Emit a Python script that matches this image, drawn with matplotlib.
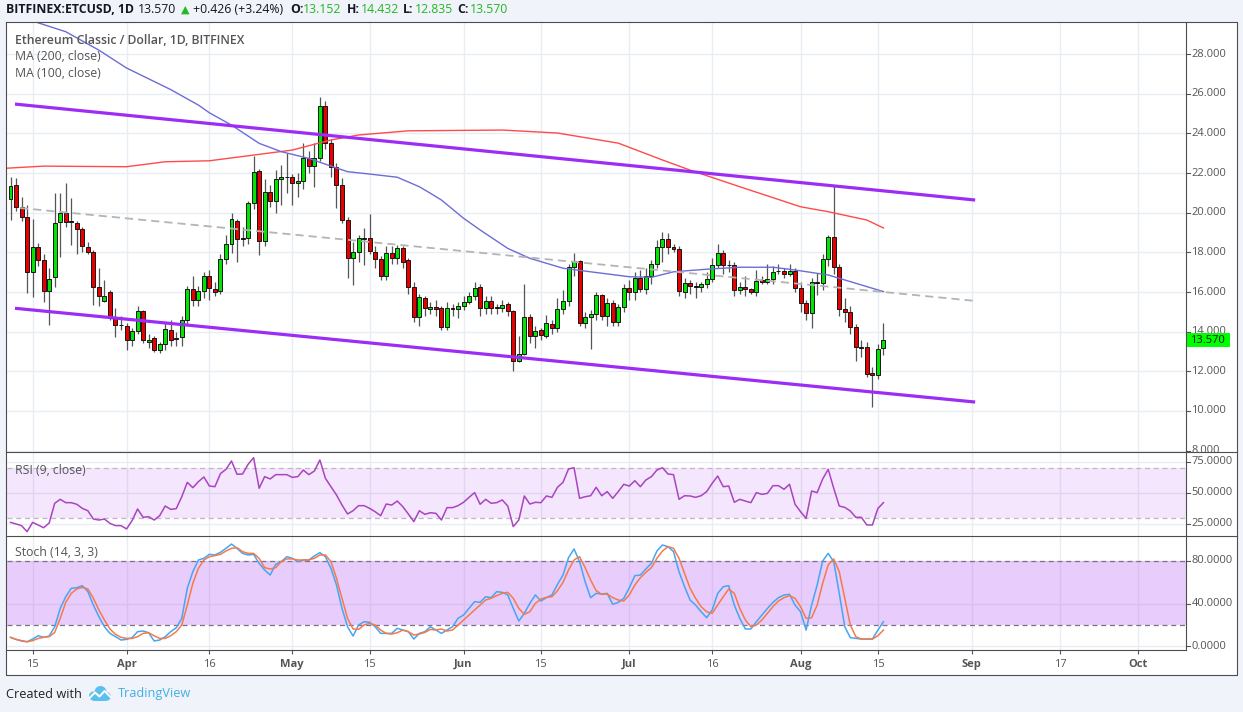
import numpy as np
import pandas as pd
import matplotlib
matplotlib.use("Agg")
import matplotlib.pyplot as plt
from matplotlib.patches import Rectangle, Circle

plt.rcParams['font.family'] = ['Open Sans', 'DejaVu Sans']

W, H = 1243, 712
START = pd.Timestamp("2018-03-11")

# ---------------- data ----------------
opens = [20.68, 21.41, 20.30, 19.80, 17.02, 18.29, 17.60, 16.04, 16.74, 19.52,
         20.00, 19.56, 19.50, 19.16, 18.29, 18.00, 16.27, 15.55, 16.02, 14.71,
         14.36, 14.30, 13.58, 14.05, 15.04, 13.50, 13.70, 13.08, 13.38, 14.10,
         13.64, 13.72, 14.59, 16.14, 15.60, 16.07, 16.82, 16.14, 16.04, 17.65,
         18.42, 19.60, 18.70, 18.70, 20.47, 22.10, 18.59, 21.06, 20.59, 21.68,
         21.80, 21.81, 21.50, 21.60, 22.74, 22.37, 22.77, 25.38, 23.53, 22.29,
         21.40, 19.63, 17.70, 18.03, 18.68, 18.70, 18.03, 17.65, 16.82, 17.98,
         17.70, 18.20, 17.60, 16.27, 14.76, 15.68, 15.13, 15.23, 15.18, 14.25,
         15.18, 15.13, 15.30, 15.50, 15.81, 16.24, 15.18, 15.55, 15.20, 15.20,
         15.38, 15.04, 12.52, 12.86, 14.72, 13.80, 14.10, 13.80, 14.37, 14.20,
         15.13, 15.56, 17.28, 17.58, 14.45, 14.76, 14.88, 15.85, 14.80, 15.46,
         14.50, 15.26, 16.19, 15.99, 16.69, 16.14, 16.81, 17.40, 18.29, 18.69,
         18.29, 18.19, 16.02, 16.44, 16.32, 16.24, 16.39, 16.64, 17.35, 17.95,
         17.36, 17.38, 16.10, 16.27, 16.13, 16.02, 16.60, 16.50, 16.66, 17.08,
         17.05, 16.90, 17.07, 16.19, 15.46, 14.93, 16.52, 16.44, 17.65, 18.76,
         17.28, 15.13, 15.00, 14.22, 13.22, 13.21, 11.90, 11.82, 13.152]
highs = [21.80, 21.75, 20.80, 20.40, 19.70, 18.47, 17.90, 17.20, 20.99, 20.98,
         21.48, 20.74, 19.60, 19.30, 18.50, 18.10, 17.20, 16.60, 16.10, 15.20,
         14.80, 14.45, 14.20, 15.30, 15.10, 13.90, 13.80, 13.50, 14.50, 14.60,
         14.00, 14.80, 16.30, 16.80, 16.30, 17.00, 17.10, 16.50, 17.90, 18.90,
         20.00, 19.70, 19.30, 20.60, 22.86, 22.20, 21.70, 21.40, 22.15, 22.40,
         23.00, 21.95, 22.00, 23.50, 23.10, 23.50, 25.82, 25.65, 23.70, 22.50,
         21.75, 19.80, 18.50, 18.90, 19.23, 19.93, 18.30, 17.80, 18.30, 18.30,
         18.37, 18.30, 17.70, 16.50, 15.90, 15.80, 15.50, 15.60, 15.30, 15.50,
         15.40, 15.50, 15.80, 16.00, 16.50, 16.40, 15.80, 15.80, 15.40, 15.60,
         15.50, 15.10, 13.80, 16.40, 14.90, 14.30, 14.20, 14.84, 14.60, 15.70,
         16.10, 17.40, 17.97, 17.60, 15.00, 15.10, 16.00, 15.90, 15.70, 15.60,
         15.40, 16.40, 16.60, 17.00, 17.10, 17.20, 17.60, 18.60, 19.04, 19.00,
         18.40, 18.30, 16.70, 16.60, 16.50, 16.50, 17.00, 17.70, 18.42, 18.10,
         17.60, 17.50, 16.50, 16.80, 16.20, 17.10, 16.80, 17.40, 17.30, 17.40,
         17.20, 17.40, 17.20, 16.50, 15.60, 16.70, 16.96, 17.90, 18.90, 21.35,
         17.40, 15.70, 15.30, 14.40, 13.60, 13.50, 12.20, 13.40, 14.432]
lows = [19.63, 20.10, 19.60, 15.95, 15.75, 17.30, 15.50, 14.34, 16.27, 17.78,
        19.30, 18.37, 17.90, 18.00, 17.90, 15.35, 15.30, 15.50, 14.60, 13.75,
        14.10, 13.08, 13.30, 13.90, 13.45, 13.20, 12.95, 12.90, 13.10, 13.30,
        13.30, 13.30, 14.40, 15.30, 15.30, 15.70, 15.60, 15.80, 15.90, 17.40,
        17.97, 17.53, 18.30, 18.40, 20.20, 17.87, 18.30, 20.30, 20.00, 20.40,
        21.00, 20.40, 20.80, 21.20, 22.00, 21.30, 22.60, 23.20, 21.80, 20.24,
        19.50, 16.70, 16.35, 17.50, 17.36, 17.90, 17.20, 16.60, 16.60, 17.40,
        17.40, 17.20, 15.90, 14.50, 14.30, 14.80, 14.90, 14.80, 14.10, 14.10,
        14.80, 14.70, 15.10, 15.40, 15.60, 14.80, 14.90, 14.90, 14.90, 15.00,
        14.80, 12.03, 12.45, 12.80, 13.43, 13.18, 13.60, 13.70, 13.90, 14.00,
        14.90, 15.30, 16.80, 14.30, 14.20, 13.13, 14.60, 14.60, 14.30, 14.30,
        14.30, 15.00, 15.60, 15.60, 16.00, 15.90, 16.40, 17.20, 17.53, 17.90,
        18.00, 15.80, 15.70, 15.90, 15.70, 16.00, 16.20, 16.50, 17.20, 16.90,
        17.00, 15.80, 15.90, 15.80, 15.90, 15.80, 16.40, 16.40, 16.40, 16.90,
        16.70, 16.80, 16.00, 15.00, 14.60, 14.17, 15.85, 16.10, 17.30, 16.90,
        14.80, 14.50, 13.90, 12.50, 12.70, 11.70, 10.19, 11.60, 12.835]
closes = [21.36, 20.30, 19.80, 17.02, 18.29, 17.60, 16.07, 16.67, 19.50, 20.00,
          19.55, 19.52, 19.16, 18.32, 18.00, 16.27, 15.81, 15.80, 14.71, 14.34,
          14.32, 13.58, 14.05, 15.04, 13.58, 13.60, 13.08, 13.38, 14.12, 13.60,
          13.66, 14.59, 16.14, 15.60, 16.07, 16.82, 16.19, 16.02, 17.65, 18.42,
          19.67, 18.67, 18.67, 20.47, 22.04, 18.59, 21.06, 20.59, 21.68, 21.78,
          21.82, 21.48, 21.60, 22.74, 22.37, 22.77, 25.38, 23.53, 22.29, 21.40,
          19.63, 17.70, 18.03, 18.70, 18.72, 18.08, 17.65, 16.82, 17.98, 17.70,
          18.20, 17.53, 16.27, 14.76, 15.73, 15.18, 15.23, 15.13, 14.25, 15.18,
          15.16, 15.30, 15.50, 15.81, 16.19, 15.18, 15.55, 15.18, 15.22, 15.35,
          15.04, 12.52, 12.86, 14.72, 13.80, 14.03, 13.85, 14.42, 14.20, 15.13,
          15.56, 17.28, 17.58, 14.45, 14.76, 14.88, 15.85, 14.80, 15.46, 14.50,
          15.26, 16.19, 15.99, 16.69, 16.14, 16.81, 17.40, 18.29, 18.69, 18.26,
          18.19, 16.07, 16.44, 16.32, 16.24, 16.39, 16.64, 17.35, 17.95, 17.35,
          17.34, 16.10, 16.27, 16.13, 16.02, 16.56, 16.53, 16.66, 17.02, 17.06,
          16.90, 17.07, 16.19, 15.46, 14.93, 16.52, 16.44, 17.65, 18.76, 17.28,
          15.13, 15.00, 14.22, 13.21, 13.20, 11.87, 11.80, 13.144, 13.570]

ma200_days = [-1, 6, 21, 28, 36, 51, 58, 63, 72, 89, 99, 110, 118, 123, 132, 143, 148, 155, 158]
ma200_vals = [22.24, 22.35, 22.32, 22.57, 22.62, 23.16, 23.67, 23.92, 24.13, 24.17,
              24.02, 23.51, 22.66, 22.15, 21.31, 20.30, 20.05, 19.63, 19.23]
ma100_days = [-1, 5, 10, 16, 21, 29, 34, 36, 40, 45, 49, 54, 58, 61, 65, 70, 74, 76,
              78, 82, 85, 90, 94, 100, 105, 112, 116, 120, 126, 132, 138, 142, 148, 153, 158]
ma100_vals = [30.30, 29.58, 29.13, 28.20, 27.30, 26.21, 25.43, 25.04, 24.42, 23.50,
              23.08, 22.74, 22.35, 22.07, 21.95, 21.79, 21.31, 20.98, 20.64, 19.72,
              19.13, 18.20, 17.70, 17.20, 17.02, 16.77, 16.74, 17.02, 17.15, 17.25,
              17.25, 17.11, 16.86, 16.44, 16.02]

rsi9 = [26.3, 25.0, 23.7, 18.8, 26.3, 24.2, 22.0, 25.8, 41.7, 44.9,
        42.2, 42.2, 40.9, 37.6, 35.7, 29.0, 28.2, 29.0, 25.5, 23.7,
        23.7, 21.0, 27.7, 37.1, 30.4, 30.9, 28.2, 31.7, 39.5, 36.8,
        37.4, 47.0, 58.6, 54.3, 59.1, 62.9, 55.6, 55.1, 65.6, 69.1,
        75.8, 65.1, 65.3, 73.1, 78.5, 53.8, 63.2, 61.3, 64.8, 64.8,
        64.8, 62.6, 63.2, 68.5, 64.8, 67.7, 76.6, 61.8, 55.1, 48.4,
        40.3, 33.1, 35.7, 39.8, 39.8, 37.6, 34.9, 31.7, 41.1, 40.3,
        43.5, 39.0, 33.1, 26.9, 35.7, 32.8, 34.1, 33.6,
        28.2, 38.2, 38.2, 39.8, 42.5, 46.5, 50.3, 40.9, 44.9, 41.7,
        42.2, 44.4, 39.5, 22.9, 28.2, 47.6, 41.1, 42.5, 42.2, 47.6,
        46.5, 54.6, 58.6, 69.4, 70.4, 45.7, 47.0, 47.8, 54.6, 47.8,
        51.1, 45.7, 51.1, 57.0, 55.6, 59.9, 55.1, 60.5, 63.2, 68.5,
        70.4, 65.3, 64.8, 44.9, 47.8, 47.6, 46.5, 47.8, 51.1, 57.8,
        63.7, 55.1, 55.6, 42.5, 44.9, 43.5, 42.2, 50.3, 48.9, 49.7,
        55.9, 55.9, 53.0, 57.0, 40.9, 34.9, 29.6, 51.6, 50.3, 61.3,
        69.1, 53.8, 39.5, 38.4, 35.5, 30.4, 30.4, 24.2, 24.2, 37.6,
        42.2]

stoch_k = [8.5, 6.6, 5.1, 4.4, 6.9, 10.0, 8.5, 9.7, 18.4, 35.5,
           46.4, 54.2, 54.8, 56.7, 51.1, 38.6, 27.8, 18.4, 12.2, 9.1,
           6.0, 6.6, 8.2, 13.8, 14.4, 12.8, 5.1, 6.0, 9.1, 13.8,
           17.5, 26.2, 54.2, 69.7, 80.6, 82.2, 85.9, 85.3, 87.8, 91.5,
           95.5, 91.5, 86.8, 85.3, 85.9, 77.5, 71.3, 66.6, 76.6, 79.1,
           83.7, 82.2, 79.1, 80.6, 80.6, 84.4, 87.5, 83.7, 72.8, 57.3,
           35.5, 18.4, 9.7, 20.0, 23.1, 22.5, 18.4, 12.2, 12.2, 12.2,
           16.9, 15.3, 13.8, 6.9, 12.2, 13.8, 18.4, 15.3,
           12.2, 15.3, 18.4, 26.2, 29.3, 35.5, 41.8, 41.1, 46.4, 45.5,
           51.1, 50.5, 48.0, 35.5, 23.7, 30.9, 40.2, 48.0, 42.4, 45.5,
           48.0, 57.9, 66.6, 82.8, 90.9, 79.1, 60.4, 45.5, 49.5, 48.9,
           49.5, 39.3, 41.1, 44.9, 54.8, 66.0, 66.6, 72.2, 77.5, 89.0,
           94.6, 93.1, 88.4, 69.7, 55.7, 43.3, 38.6, 32.4, 26.8, 34.0,
           49.5, 55.7, 56.7, 38.6, 26.2, 16.3, 16.3, 23.1, 29.3, 35.5,
           41.1, 45.5, 48.0, 48.6, 38.6, 32.4, 15.3, 38.6, 57.3, 79.7,
           86.8, 79.1, 49.5, 18.4, 8.2, 7.5, 6.9, 6.9, 6.9, 15.3,
           23.1]
stoch_d = [8.5, 6.6, 5.4, 4.4, 5.4, 7.5, 8.5, 9.1, 13.1, 26.2,
           41.1, 49.5, 53.6, 55.1, 53.6, 44.9, 34.0, 24.7, 16.3, 11.3,
           8.5, 7.5, 7.5, 9.1, 12.2, 12.8, 10.0, 7.5, 7.5, 10.0,
           13.8, 20.0, 38.6, 58.9, 72.8, 80.6, 83.7, 84.7, 85.9, 89.0,
           91.5, 92.1, 88.4, 86.8, 86.8, 82.2, 73.5, 72.2, 73.5, 79.1,
           81.6, 81.6, 80.6, 80.6, 80.6, 82.2, 85.3, 85.3, 79.1, 63.5,
           44.9, 26.2, 16.3, 15.9, 20.0, 21.5, 20.0, 15.3, 12.2, 11.6,
           12.8, 15.3, 13.8, 10.7, 11.6, 13.1, 15.9, 15.3,
           16.3, 14.4, 15.3, 20.0, 24.7, 29.3, 34.0, 38.6, 43.3, 44.9,
           47.4, 49.5, 50.5, 44.9, 35.5, 29.9, 32.4, 40.2, 44.2, 45.8,
           46.4, 52.0, 59.8, 71.3, 80.6, 83.7, 73.5, 62.0, 52.0, 48.6,
           48.9, 45.5, 43.3, 42.4, 48.0, 57.3, 64.1, 69.1, 73.5, 82.2,
           89.0, 93.1, 91.5, 82.2, 68.2, 54.2, 44.9, 37.1, 32.4, 30.9,
           38.6, 46.4, 53.6, 49.5, 35.5, 24.7, 18.4, 20.0, 24.7, 30.9,
           37.1, 42.4, 45.5, 47.4, 44.9, 37.1, 26.2, 26.8, 38.6, 58.9,
           76.0, 81.6, 69.7, 44.9, 20.0, 9.1, 6.9, 6.9, 6.9, 10.0,
           15.3]

# channel / trend lines drawn on the chart (day offset, price)
chan_days = [0.81, 174.6]
chan_upper = [25.48, 20.64]
chan_lower = [15.18, 10.45]
mid_days = [1.72, 174.6]
mid_vals = [20.24, 15.55]

tick_dates = ['2018-03-15', '2018-04-01', '2018-04-16', '2018-05-01', '2018-05-15',
              '2018-06-01', '2018-06-15', '2018-07-01', '2018-07-16', '2018-08-01',
              '2018-08-15', '2018-09-01', '2018-09-17', '2018-10-01']
tick_labels = ['15', 'Apr', '16', 'May', '15', 'Jun', '15', 'Jul', '16', 'Aug', '15', 'Sep', '17', 'Oct']
price_ticks = [8, 10, 12, 14, 16, 18, 20, 22, 24, 26, 28]
rsi_ticks = [25, 50, 75]
stoch_ticks = [0, 40, 80]
last_price = 13.570

# ---------------- figure ----------------
dates = pd.date_range(START, periods=len(closes), freq="D")
x = np.asarray((dates - START).days, dtype=float)
tick_pos = np.asarray((pd.to_datetime(tick_dates) - START).days, dtype=float)

fig = plt.figure(figsize=(W / 100, H / 100), dpi=100, facecolor='#f0f3fa')

def fbox(x0, y0, x1, y1):
    return [x0 / W, 1 - y1 / H, (x1 - x0) / W, (y1 - y0) / H]

bg = fig.add_axes(fbox(6.5, 22, 1237, 674.5), zorder=-5)
bg.set_facecolor('white')
bg.set_xticks([]); bg.set_yticks([])
for s in bg.spines.values():
    s.set_visible(False)

LX, RX = 6.5, 1186
ax = fig.add_axes(fbox(LX, 22, RX, 452))
ax_r = fig.add_axes(fbox(LX, 452, RX, 536), sharex=ax)
ax_s = fig.add_axes(fbox(LX, 536, RX, 650), sharex=ax)

GRID = '#e7edf3'
for a in (ax, ax_r, ax_s):
    a.set_facecolor('none')
    for s in a.spines.values():
        s.set_visible(False)
    a.set_xticks(tick_pos)
    a.grid(True, color=GRID, lw=1.0, zorder=0)
    a.set_axisbelow(True)
    a.tick_params(left=False, labelleft=False, right=False, labelright=False)

ax.set_xlim(-0.724, 212.76)
ax.set_ylim(7.93, 29.62)
ax.set_yticks(price_ticks)
ax_r.set_ylim(15.32, 83.06)
ax_r.set_yticks(rsi_ticks)
ax_s.set_ylim(-3.3, 103.0)
ax_s.set_yticks(stoch_ticks)
for a in (ax, ax_r):
    a.tick_params(bottom=False, labelbottom=False)
ax_s.set_xticklabels(tick_labels)
ax_s.tick_params(axis='x', direction='out', length=3, width=0.8, color='#555555',
                 labelsize=8, labelcolor='#555555', pad=3.5)
for lab in ax_s.get_xticklabels():
    if not lab.get_text().isdigit():
        lab.set_fontweight('bold')

# candles
o = np.array(opens); c = np.array(closes); hi = np.array(highs); lo = np.array(lows)
up = c >= o
ax.vlines(x, lo, hi, color='#555555', lw=0.9, zorder=2)
body_b = np.minimum(o, c)
body_h = np.maximum(np.abs(c - o), 0.025)
ax.bar(x, body_h, bottom=body_b, width=0.72,
       color=np.where(up, '#00e600', '#e80000'), edgecolor='#151515',
       linewidth=0.7, zorder=3)

# moving averages
ax.plot(ma200_days, ma200_vals, color='#ff4a4a', lw=1.0, zorder=4)
ax.plot(ma100_days, ma100_vals, color='#6c6cd8', lw=1.0, zorder=4)

# trend lines
ax.plot(mid_days, mid_vals, color='#b4b4b4', lw=1.3, ls=(0, (4.5, 2.8)), zorder=4)
ax.plot(chan_days, chan_upper, color='#9d2cf5', lw=2.3, solid_capstyle='butt', zorder=5)
ax.plot(chan_days, chan_lower, color='#9d2cf5', lw=2.3, solid_capstyle='butt', zorder=5)

# RSI
ax_r.axhspan(30, 70, color='#b658f2', alpha=0.15, lw=0, zorder=1)
for v in (30, 70):
    ax_r.axhline(v, color='#c4b2c9', lw=0.9, ls=(0, (4, 3)), zorder=2)
ax_r.plot(x, rsi9, color='#aa44c0', lw=1.1, zorder=3)

# Stoch
ax_s.axhspan(20, 80, color='#b658f2', alpha=0.30, lw=0, zorder=1)
for v in (20, 80):
    ax_s.axhline(v, color='#7c7284', lw=0.9, ls=(0, (4, 3)), zorder=2)
ax_s.plot(x, stoch_k, color='#45a6f2', lw=1.1, zorder=3)
ax_s.plot(x, stoch_d, color='#f57a4a', lw=1.1, zorder=3)

# ---------------- right price scales ----------------
def price_scale(y0, y1, ylim, ticks, fmt):
    pa = fig.add_axes(fbox(RX, y0, 1237, y1))
    pa.set_xlim(0, 51)
    pa.set_ylim(*ylim)
    pa.axis('off')
    for t in ticks:
        pa.plot([0, 4], [t, t], color='#555555', lw=0.8, clip_on=True)
        pa.text(5.5, t, fmt.format(t), fontsize=8, color='#555555', va='center',
                ha='left', clip_on=True)
    return pa

pa = price_scale(22, 452, ax.get_ylim(), price_ticks, '{:.3f}')
price_scale(452, 536, ax_r.get_ylim(), rsi_ticks, '{:.4f}')
price_scale(536, 650, ax_s.get_ylim(), stoch_ticks, '{:.4f}')
bh = 14 / 19.83
pa.add_patch(Rectangle((0.5, last_price - bh / 2), 43, bh, facecolor='#00ff00',
                       edgecolor='none', zorder=5))
pa.text(4.5, last_price, '{:.3f}'.format(last_price), fontsize=8, color='#111111',
        va='center', ha='left', zorder=6)

# ---------------- overlay: frame, header, legends, footer ----------------
ov = fig.add_axes([0, 0, 1, 1], zorder=10)
ov.set_xlim(0, W)
ov.set_ylim(H, 0)
ov.axis('off')
ov.patch.set_alpha(0)
FR = '#4d4d4d'
ov.plot([6.5, 1237, 1237, 6.5, 6.5], [22, 22, 674.5, 674.5, 22], color=FR, lw=0.8)
ov.plot([6.5, 1237], [452, 452], color=FR, lw=0.8)
ov.plot([6.5, 1237], [536, 536], color=FR, lw=0.8)
ov.plot([6.5, RX], [650, 650], color=FR, lw=0.8)
ov.plot([RX, RX], [22, 650], color=FR, lw=0.8)

HDR = '#131722'
GRN = '#22b922'
hy = 9.5
segs = [("BITFINEX:ETCUSD, 1D", 6, 'bold', HDR), ("13.570", 138, 'normal', HDR),
        ("+0.426 (+3.24%)", 193, 'normal', HDR),
        ("O:", 290, 'bold', HDR), ("13.152", 303, 'normal', GRN),
        ("H:", 347, 'bold', HDR), ("14.432", 361, 'normal', GRN),
        ("L:", 403, 'bold', HDR), ("12.835", 415, 'normal', GRN),
        ("C:", 457, 'bold', HDR), ("13.570", 470, 'normal', GRN)]
for s, xx, fw, col in segs:
    ov.text(xx, hy, s, fontsize=8.8, fontweight=fw, color=col, va='center', ha='left')
ov.text(185, hy, '▲', fontsize=8, color=GRN, va='center', ha='center',
        family=['DejaVu Sans'])

LG = '#555555'
ov.text(15, 40, 'Ethereum Classic / Dollar, 1D, BITFINEX', fontsize=8.8,
        fontweight='semibold', color=LG, va='center', ha='left')
ov.text(15, 57, 'MA (200, close)', fontsize=8.8, color=LG, va='center', ha='left')
ov.text(15, 73.5, 'MA (100, close)', fontsize=8.8, color=LG, va='center', ha='left')
ov.text(15, 470, 'RSI (9, close)', fontsize=8.8, color=LG, va='center', ha='left')
ov.text(15, 553, 'Stoch (14, 3, 3)', fontsize=8.8, color=LG, va='center', ha='left')

# footer
ov.text(6, 694, 'Created with', fontsize=9.2, color='#222222', va='center', ha='left')
LOGO = '#5bc0ee'
for (cx, cy, r) in [(93.5, 696, 4.5), (100.5, 692, 6.0), (106.5, 696.5, 4.3)]:
    ov.add_patch(Circle((cx, cy), r, facecolor=LOGO, edgecolor='none'))
ov.add_patch(Rectangle((93.5, 695), 13, 5.8, facecolor=LOGO, edgecolor='none'))
ov.plot([89.5, 95, 99.5, 104.5, 110.5], [698, 692.5, 696.5, 691, 697], color='white', lw=1.4)
ov.text(118, 694, 'TradingView', fontsize=9.2, color='#42b0e6', va='center', ha='left')

fig.savefig('out.png', dpi=100, facecolor=fig.get_facecolor())
